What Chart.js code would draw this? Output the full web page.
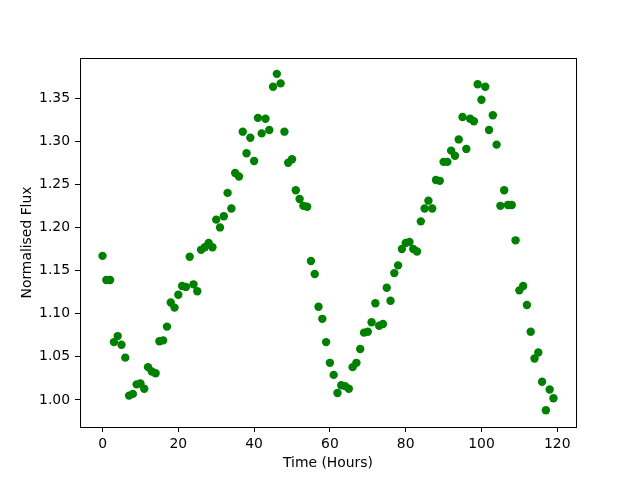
<!DOCTYPE html>
<html>
<head>
<meta charset="utf-8">
<script src="https://cdn.jsdelivr.net/npm/chart.js@4"></script>
<style>
  html, body { margin: 0; padding: 0; background: #ffffff; }
  canvas { display: block; }
</style>
</head>
<body>
<canvas id="c" width="640" height="480"></canvas>
<script>
const hours = [];
for (let i = 0; i < 120; i++) hours.push(i);

const flux = [
  1.167, 1.139, 1.139, 1.067, 1.074, 1.064, 1.049, 1.005, 1.007, 1.018,
  1.019, 1.013, 1.038, 1.033, 1.031, 1.068, 1.069, 1.085, 1.113, 1.107,
  1.122, 1.132, 1.131, 1.166, 1.134, 1.126, 1.174, 1.177, 1.182, 1.177,
  1.209, 1.200, 1.213, 1.240, 1.222, 1.263, 1.259, 1.311, 1.286, 1.304,
  1.277, 1.327, 1.309, 1.326, 1.313, 1.363, 1.378, 1.367, 1.311, 1.275,
  1.279, 1.243, 1.233, 1.225, 1.224, 1.161, 1.146, 1.108, 1.094, 1.067,
  1.043, 1.029, 1.008, 1.017, 1.016, 1.013, 1.038, 1.043, 1.059, 1.078,
  1.079, 1.090, 1.112, 1.086, 1.088, 1.130, 1.115, 1.147, 1.156, 1.175,
  1.182, 1.183, 1.175, 1.172, 1.207, 1.222, 1.231, 1.222, 1.255, 1.254,
  1.276, 1.276, 1.289, 1.283, 1.302, 1.328, 1.291, 1.326, 1.323, 1.366,
  1.348, 1.363, 1.313, 1.330, 1.296, 1.225, 1.243, 1.226, 1.226, 1.185,
  1.127, 1.132, 1.110, 1.079, 1.048, 1.055, 1.021, 0.988, 1.012, 1.002
];

const xTicks = [0, 20, 40, 60, 80, 100, 120];
const yTicks = [1.00, 1.05, 1.10, 1.15, 1.20, 1.25, 1.30, 1.35];

const points = hours.map((h, i) => ({ x: h, y: flux[i] }));

const FONT = { family: 'DejaVu Sans', size: 13.9 };

const frame = {
  id: 'frame',
  afterDatasetsDraw(chart) {
    const a = chart.chartArea;
    const ctx = chart.ctx;
    ctx.save();
    ctx.strokeStyle = '#000000';
    ctx.lineWidth = 1;
    ctx.strokeRect(Math.round(a.left) + 0.5, Math.round(a.top) + 0.5,
                   Math.round(a.right - a.left), Math.round(a.bottom - a.top));
    ctx.restore();
  }
};

new Chart(document.getElementById('c'), {
  type: 'scatter',
  data: {
    datasets: [{
      data: points,
      backgroundColor: '#008000',
      borderColor: '#008000',
      borderWidth: 0,
      pointRadius: 4.2,
      pointHoverRadius: 4.2
    }]
  },
  options: {
    responsive: false,
    animation: false,
    events: [],
    layout: { padding: { left: 0, right: 64, top: 58, bottom: 0 } },
    plugins: { legend: { display: false }, tooltip: { enabled: false } },
    scales: {
      x: {
        type: 'linear',
        min: -5.95,
        max: 124.95,
        afterFit(s) { s.height = 53; },
        afterBuildTicks(s) { s.ticks = xTicks.map(v => ({ value: v })); },
        grid: { display: true, drawOnChartArea: false, drawTicks: true, tickLength: 5, color: '#000000', tickWidth: 1 },
        border: { display: false },
        ticks: { color: '#000000', font: FONT, padding: 4, maxRotation: 0, autoSkip: false,
                 callback: v => String(v) },
        title: { display: true, text: 'Time (Hours)', color: '#000000', font: FONT, padding: { top: 0, bottom: 8 } }
      },
      y: {
        type: 'linear',
        min: 0.9686,
        max: 1.3964,
        afterFit(s) { s.width = 80; },
        afterBuildTicks(s) { s.ticks = yTicks.map(v => ({ value: v })); },
        grid: { display: true, drawOnChartArea: false, drawTicks: true, tickLength: 5, color: '#000000', tickWidth: 1 },
        border: { display: false },
        ticks: { color: '#000000', font: FONT, padding: 5, autoSkip: false,
                 callback: v => Number(v).toFixed(2) },
        title: { display: true, text: 'Normalised Flux', color: '#000000', font: FONT, padding: { top: 19, bottom: 0 } }
      }
    }
  },
  plugins: [frame]
});
</script>
</body>
</html>
